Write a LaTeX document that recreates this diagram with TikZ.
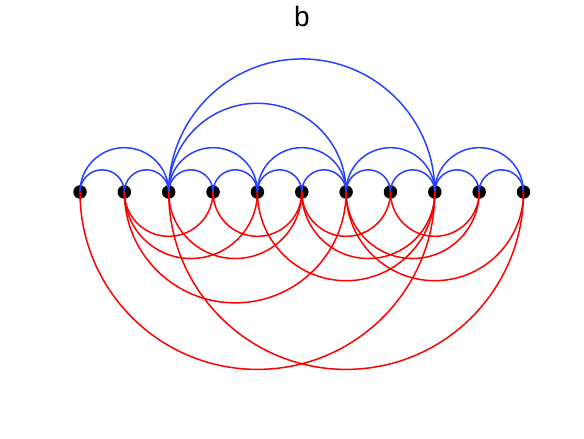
\documentclass[tikz,border=0pt]{standalone}
\usepackage{fontspec}
\setmainfont{Liberation Sans}
\definecolor{arcblue}{RGB}{40,64,255}
\definecolor{arcred}{RGB}{255,0,0}
\tikzset{
  dot/.style={circle,fill=black,inner sep=0pt,minimum size=13.5pt},
  uparc/.style={arcblue,line width=1.5pt},
  downarc/.style={arcred,line width=1.5pt}
}
\newcommand{\gap}{44.35}
\begin{document}
\begin{tikzpicture}[x=1pt,y=1pt]
    \useasboundingbox (0,0) rectangle (584,439);
    \node[anchor=base,font=\fontsize{28}{30}\selectfont] (title) at (302,412) {b};
    \foreach \i in {0,...,10} {
        \node[dot] (n\i) at ({80+\gap*\i},247) {};
    }
    \foreach \a/\b in {0/1,1/2,2/3,3/4,4/5,5/6,6/7,7/8,8/9,9/10,
                       0/2,2/4,4/6,6/8,8/10,2/6,2/8} {
        \draw[uparc] (n\a.center) arc[start angle=180,end angle=0,radius={(\b-\a)*\gap/2}];
    }
    \foreach \a/\b in {1/3,3/5,5/7,7/9,1/4,2/5,5/8,6/9,
                       1/6,4/8,6/10,0/8,2/10} {
        \draw[downarc] (n\a.center) arc[start angle=180,end angle=360,radius={(\b-\a)*\gap/2}];
    }
\end{tikzpicture}
\end{document}
